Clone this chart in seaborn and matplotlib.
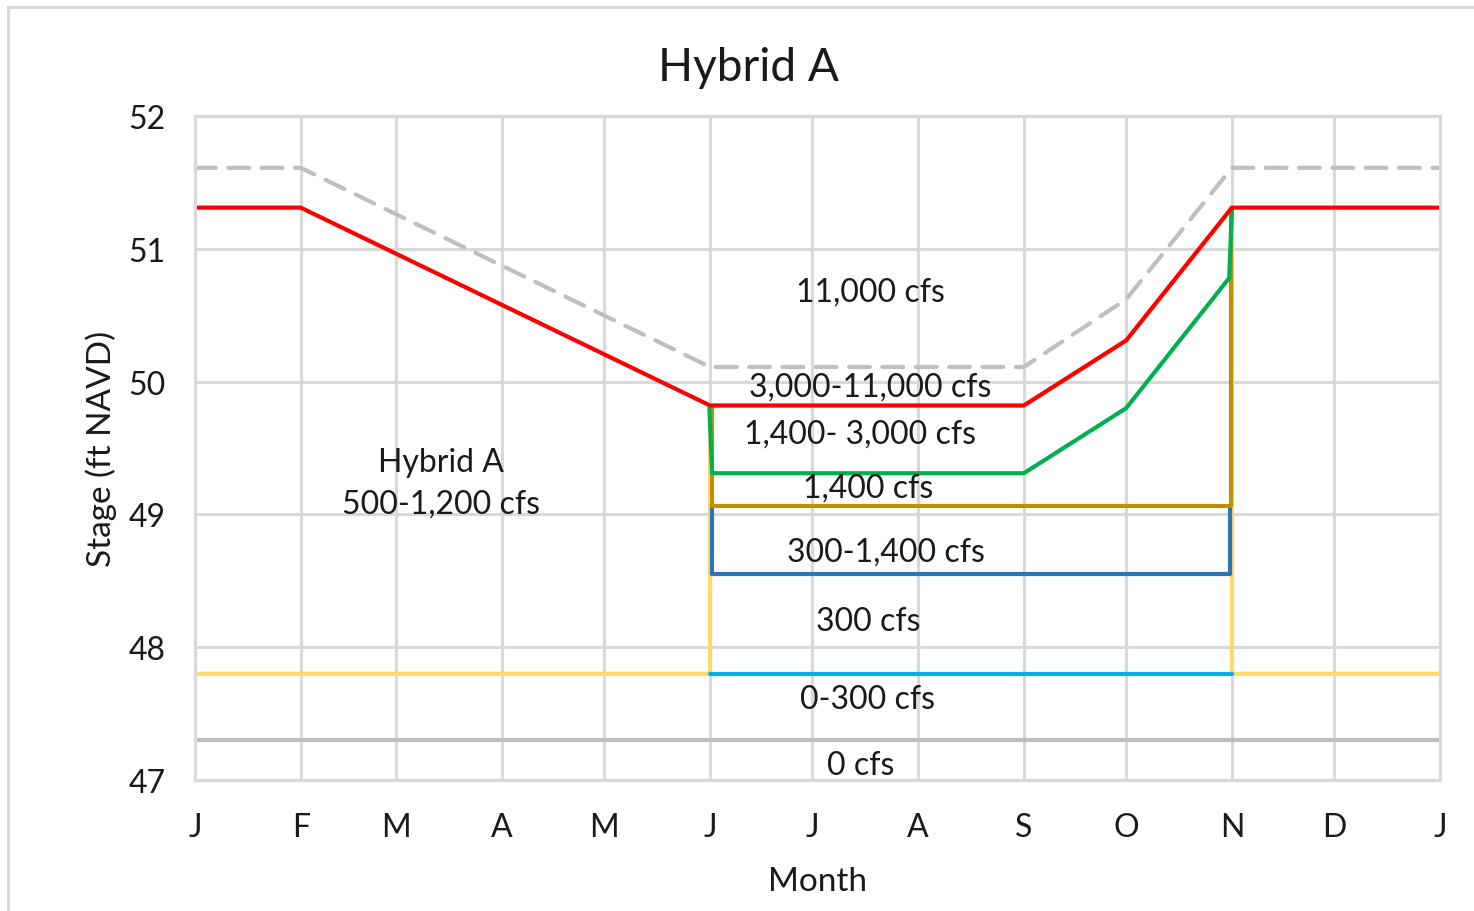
import matplotlib
matplotlib.use("Agg")
import matplotlib.pyplot as plt
import seaborn as sns
from matplotlib.patches import Rectangle

# month ticks (day of year)
month_days = [0, 31, 59, 90, 120, 151, 181, 212, 243, 273, 304, 334, 365]
month_labels = ["J", "F", "M", "A", "M", "J", "J", "A", "S", "O", "N", "D", "J"]

# series (day of year, stage ft NAVD)
zero_days = [0, 365]
zero_stage = [47.3, 47.3]

yellow_days = [0, 151, 151, 243, 273, 304, 304, 365]
yellow_stage = [47.8, 47.8, 49.82, 49.82, 50.31, 51.31, 47.8, 47.8]

lightblue_days = [151, 304]
lightblue_stage = [47.8, 47.8]

blue_days = [151.5, 151.5, 303.5, 303.5]
blue_stage = [49.05, 48.55, 48.55, 49.05]

gold_days = [151.5, 151.5, 303.8, 303.8]
gold_stage = [49.8, 49.06, 49.06, 51.3]

green_days = [150.8, 151.6, 243, 273, 303.2, 304]
green_stage = [49.8, 49.31, 49.31, 49.8, 50.78, 51.3]

red_days = [0, 31, 151, 243, 273, 304, 365]
red_stage = [51.31, 51.31, 49.82, 49.82, 50.31, 51.31, 51.31]

upper_days = [0, 31, 151, 243, 273, 304, 365]
upper_stage = [51.61, 51.61, 50.11, 50.11, 50.62, 51.61, 51.61]

# zone labels
zone_text = ["11,000 cfs", "3,000-11,000 cfs", "1,400- 3,000 cfs", "1,400 cfs",
             "300-1,400 cfs", "300 cfs", "0-300 cfs", "0 cfs", "Hybrid A\n500-1,200 cfs"]
zone_day = [197.9, 197.9, 195.0, 197.3, 202.6, 197.3, 197.3, 195.2, 72.1]
zone_stage = [50.675, 49.96, 49.61, 49.20, 48.72, 48.20, 47.61, 47.11, 49.24]

sns.set_style("white")
plt.rcParams['font.family'] = ['Lato', 'DejaVu Sans']

fig = plt.figure(figsize=(14.74, 9.12), dpi=100)
ax = fig.add_axes([195/1474, 1-781/912, (1440-195)/1474, (781-117)/912])

grid_col = "#D9D9D9"
lw = 3.0

def draw(xs, ys, col, width=lw):
    sns.lineplot(x=xs, y=ys, sort=False, estimator=None, errorbar=None,
                 color=col, linewidth=width, ax=ax)
    return ax.lines[-1]

draw(zero_days, zero_stage, "#BFBFBF")
draw(yellow_days, yellow_stage, "#FFD966")
draw(lightblue_days, lightblue_stage, "#00B0F0")
draw(blue_days, blue_stage, "#2E75B6")
draw(gold_days, gold_stage, "#BF9000")
draw(green_days, green_stage, "#00B050")
draw(red_days, red_stage, "#FF0000")
dash_line = draw(upper_days, upper_stage, "#BFBFBF", 3.0)
dash_line.set_dashes((5, 3))
dash_line.set_dash_capstyle("round")

for t, d, s in zip(zone_text, zone_day, zone_stage):
    ax.text(d, s, t, ha="center", va="center", fontsize=23, color="#1a1a1a",
            linespacing=1.5, zorder=5)

ax.set_xlim(0, 365)
ax.set_ylim(47, 52)
ax.set_xticks(month_days)
ax.set_xticklabels(month_labels)
ax.set_yticks([47, 48, 49, 50, 51, 52])
ax.grid(True, color=grid_col, linewidth=2.2, zorder=0)
ax.set_axisbelow(True)
for sp in ax.spines.values():
    sp.set_color(grid_col)
    sp.set_linewidth(2.2)
ax.tick_params(axis="x", length=5, width=2.2, color=grid_col, pad=18, labelsize=23, labelcolor="#1a1a1a")
ax.tick_params(axis="y", length=0, pad=21, labelsize=23, labelcolor="#1a1a1a")

ax.set_xlabel("Month", fontsize=24, color="#1a1a1a", labelpad=17)
ax.set_ylabel("Stage (ft NAVD)", fontsize=24, color="#1a1a1a", labelpad=8)
fig.text(748/1474, 1-68/912, "Hybrid A", ha="center", va="center", fontsize=33, color="#1a1a1a")

fig.patches.append(Rectangle((8/1474, -0.1), 1.2, 1-8/912+0.1, transform=fig.transFigure,
                             fill=False, edgecolor=grid_col, linewidth=2.2))

fig.savefig("out.png", dpi=100)
